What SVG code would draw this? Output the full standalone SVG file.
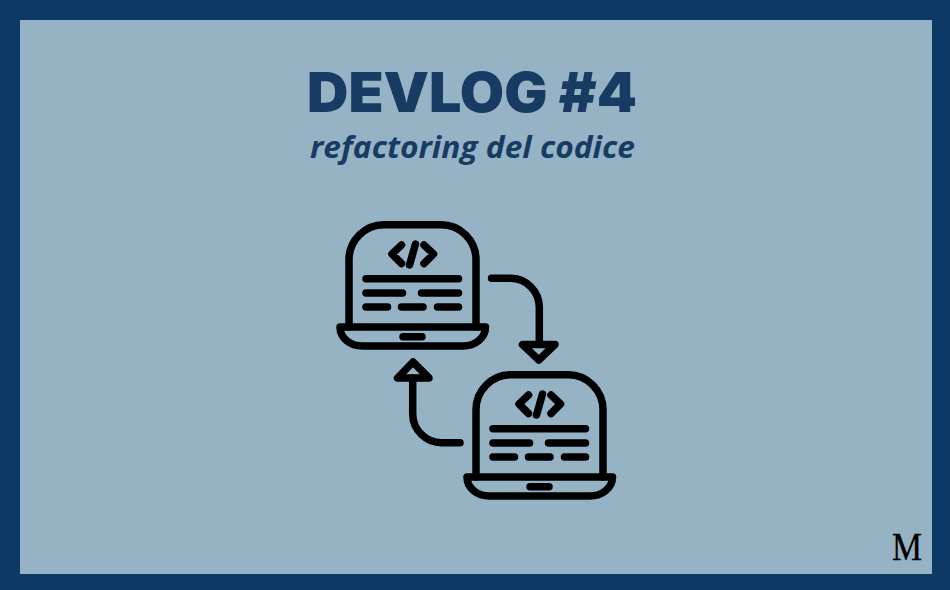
<svg xmlns="http://www.w3.org/2000/svg" width="950" height="590" viewBox="0 0 950 590">
<style>
.s{fill:none;stroke:#000;stroke-width:7.500;stroke-linecap:round;stroke-linejoin:round}
.t{font-family:"Inter","Liberation Sans",sans-serif;font-weight:900;font-size:55px;fill:#183b63}
.u{font-family:"Open Sans","Liberation Sans",sans-serif;font-weight:700;font-style:italic;font-size:31px;fill:#183b63}
.m{font-family:"Liberation Serif",serif;font-size:39px;fill:#000;stroke:#000;stroke-width:.3}
</style>
<defs>
<g id="laptop" class="s">
<path d="M349 327V260A35 35 0 0 1 384 224.700H441A35 35 0 0 1 476 260V327"/>
<path d="M340 327H485.500C485.500 338 475 346 463 346H362.500C350 346 340 338 340 327Z"/>
<path d="M401.500 245L392 254L401.500 263.500M424 245L433.500 254L424 263.500M415.500 244L409.500 265"/>
<path d="M366 278.700H458.500M366 293H402.500M421.500 293H458.500M366 307H387.500M401.500 307H423M437.500 307H458.500M403 336.700H422"/>
</g>
</defs>
<rect width="950" height="590" fill="#0c3966"/>
<rect x="20" y="20" width="912" height="554" fill="#95b3c5"/>
<text class="t" x="307" y="112" textLength="330" lengthAdjust="spacingAndGlyphs">DEVLOG #4</text>
<text class="u" x="310" y="158" textLength="325" lengthAdjust="spacingAndGlyphs">refactoring del codice</text>
<g id="laptop-top"><use href="#laptop"/></g>
<g id="laptop-bottom"><use href="#laptop" x="127" y="150"/></g>
<g id="connectors" class="s">
<path d="M491.500 278.300H510A29 29 0 0 1 539.300 307V344"/>
<path d="M522.500 344.500H555L538.800 360Z"/>
<path d="M460 442.700H442A29 29 0 0 1 412.700 414V378"/>
<path d="M397.500 378H429L413 362Z"/>
</g>
<text class="m" x="892" y="560" textLength="30" lengthAdjust="spacingAndGlyphs">M</text>
</svg>
